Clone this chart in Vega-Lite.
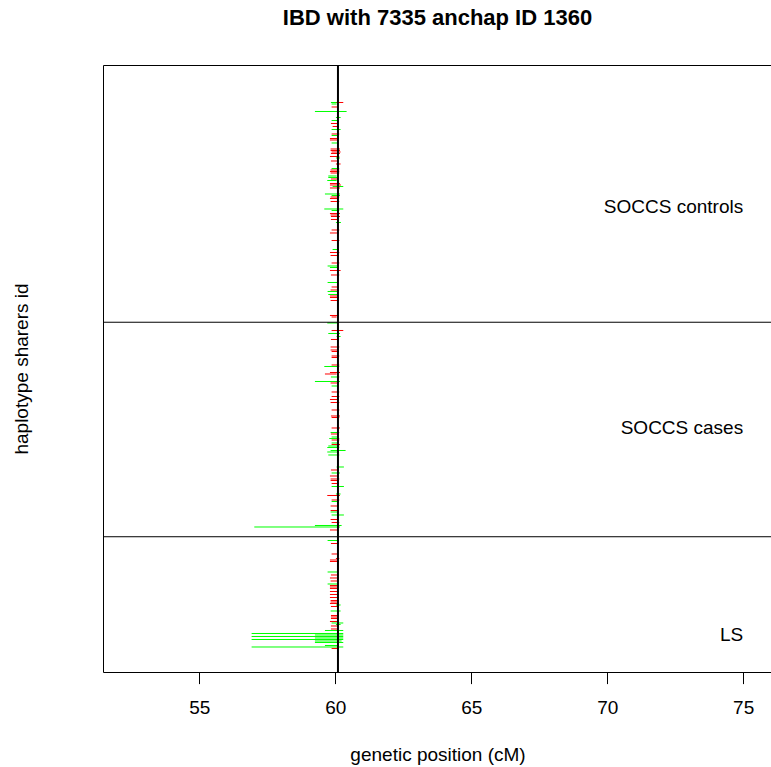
{
  "$schema": "https://vega.github.io/schema/vega-lite/v6.json",
  "width": 669,
  "height": 607,
  "autosize": {"type": "none"},
  "padding": {"left": 103, "top": 65, "right": 0, "bottom": 95},
  "background": "white",
  "config": {
    "view": {"stroke": "black", "strokeWidth": 1},
    "font": "Liberation Sans"
  },
  "title": {
    "text": "IBD with 7335 anchap ID 1360",
    "fontSize": 22,
    "font": "Liberation Sans",
    "fontWeight": "bold",
    "color": "black",
    "anchor": "middle",
    "frame": "group",
    "offset": 34
  },
  "datasets": {
    "segments": [
      {"id": 365, "start": 59.842, "end": 60.111, "hap": "A"},
      {"id": 365, "start": 60.05, "end": 60.295, "hap": "B"},
      {"id": 364, "start": 59.866, "end": 60.05, "hap": "A"},
      {"id": 362, "start": 59.866, "end": 60.087, "hap": "B"},
      {"id": 359, "start": 59.253, "end": 60.418, "hap": "A"},
      {"id": 355, "start": 60.025, "end": 60.197, "hap": "A"},
      {"id": 353, "start": 59.866, "end": 60.111, "hap": "A"},
      {"id": 351, "start": 59.842, "end": 60.074, "hap": "B"},
      {"id": 349, "start": 59.903, "end": 60.136, "hap": "B"},
      {"id": 347, "start": 59.866, "end": 60.197, "hap": "A"},
      {"id": 344, "start": 59.866, "end": 60.148, "hap": "B"},
      {"id": 343, "start": 59.866, "end": 60.111, "hap": "A"},
      {"id": 341, "start": 59.805, "end": 60.136, "hap": "B"},
      {"id": 340, "start": 59.805, "end": 60.136, "hap": "B"},
      {"id": 338, "start": 59.866, "end": 60.087, "hap": "A"},
      {"id": 334, "start": 59.829, "end": 60.172, "hap": "B"},
      {"id": 333, "start": 59.829, "end": 60.172, "hap": "B"},
      {"id": 332, "start": 59.866, "end": 60.197, "hap": "B"},
      {"id": 331, "start": 59.842, "end": 60.172, "hap": "B"},
      {"id": 329, "start": 59.805, "end": 60.148, "hap": "B"},
      {"id": 328, "start": 60.025, "end": 60.172, "hap": "A"},
      {"id": 326, "start": 59.842, "end": 60.087, "hap": "B"},
      {"id": 324, "start": 60.025, "end": 60.197, "hap": "B"},
      {"id": 321, "start": 59.866, "end": 60.148, "hap": "A"},
      {"id": 320, "start": 59.829, "end": 60.148, "hap": "B"},
      {"id": 319, "start": 59.805, "end": 60.148, "hap": "B"},
      {"id": 318, "start": 59.829, "end": 60.148, "hap": "B"},
      {"id": 316, "start": 59.744, "end": 60.05, "hap": "A"},
      {"id": 315, "start": 59.744, "end": 60.111, "hap": "A"},
      {"id": 314, "start": 59.842, "end": 60.124, "hap": "B"},
      {"id": 313, "start": 59.707, "end": 60.05, "hap": "A"},
      {"id": 311, "start": 59.805, "end": 60.172, "hap": "B"},
      {"id": 310, "start": 59.805, "end": 60.209, "hap": "B"},
      {"id": 309, "start": 59.903, "end": 60.295, "hap": "A"},
      {"id": 308, "start": 59.805, "end": 60.172, "hap": "B"},
      {"id": 304, "start": 59.621, "end": 60.172, "hap": "A"},
      {"id": 303, "start": 59.866, "end": 60.172, "hap": "A"},
      {"id": 302, "start": 59.829, "end": 60.148, "hap": "B"},
      {"id": 301, "start": 59.805, "end": 60.111, "hap": "B"},
      {"id": 299, "start": 59.829, "end": 60.148, "hap": "B"},
      {"id": 294, "start": 59.597, "end": 60.295, "hap": "A"},
      {"id": 293, "start": 59.866, "end": 60.148, "hap": "A"},
      {"id": 291, "start": 59.805, "end": 60.172, "hap": "B"},
      {"id": 290, "start": 59.829, "end": 60.136, "hap": "B"},
      {"id": 289, "start": 59.842, "end": 60.172, "hap": "B"},
      {"id": 287, "start": 59.842, "end": 60.111, "hap": "B"},
      {"id": 285, "start": 60.025, "end": 60.209, "hap": "A"},
      {"id": 280, "start": 59.866, "end": 60.148, "hap": "B"},
      {"id": 278, "start": 59.805, "end": 60.136, "hap": "B"},
      {"id": 273, "start": 59.866, "end": 60.148, "hap": "B"},
      {"id": 267, "start": 59.903, "end": 60.136, "hap": "A"},
      {"id": 265, "start": 59.805, "end": 60.148, "hap": "B"},
      {"id": 263, "start": 59.829, "end": 60.136, "hap": "B"},
      {"id": 258, "start": 59.866, "end": 60.148, "hap": "B"},
      {"id": 256, "start": 59.719, "end": 60.136, "hap": "A"},
      {"id": 255, "start": 59.805, "end": 60.111, "hap": "A"},
      {"id": 253, "start": 59.805, "end": 60.197, "hap": "B"},
      {"id": 250, "start": 59.842, "end": 60.148, "hap": "B"},
      {"id": 245, "start": 59.719, "end": 60.087, "hap": "A"},
      {"id": 242, "start": 59.866, "end": 60.136, "hap": "B"},
      {"id": 240, "start": 59.829, "end": 60.136, "hap": "B"},
      {"id": 239, "start": 59.719, "end": 60.111, "hap": "A"},
      {"id": 237, "start": 59.744, "end": 60.111, "hap": "A"},
      {"id": 236, "start": 59.805, "end": 60.136, "hap": "B"},
      {"id": 235, "start": 59.805, "end": 60.136, "hap": "B"},
      {"id": 233, "start": 59.829, "end": 60.136, "hap": "B"},
      {"id": 223, "start": 59.805, "end": 60.136, "hap": "B"},
      {"id": 222, "start": 59.866, "end": 60.05, "hap": "B"},
      {"id": 218, "start": 59.707, "end": 60.111, "hap": "A"},
      {"id": 213, "start": 59.866, "end": 60.295, "hap": "B"},
      {"id": 211, "start": 59.744, "end": 60.172, "hap": "A"},
      {"id": 209, "start": 60.05, "end": 60.197, "hap": "A"},
      {"id": 207, "start": 59.842, "end": 60.136, "hap": "B"},
      {"id": 202, "start": 59.829, "end": 60.148, "hap": "B"},
      {"id": 200, "start": 59.829, "end": 60.136, "hap": "B"},
      {"id": 199, "start": 59.866, "end": 60.136, "hap": "B"},
      {"id": 196, "start": 59.866, "end": 60.148, "hap": "B"},
      {"id": 195, "start": 59.866, "end": 60.111, "hap": "B"},
      {"id": 190, "start": 59.866, "end": 60.148, "hap": "B"},
      {"id": 189, "start": 59.597, "end": 60.148, "hap": "A"},
      {"id": 185, "start": 59.805, "end": 60.172, "hap": "B"},
      {"id": 184, "start": 59.621, "end": 60.05, "hap": "B"},
      {"id": 182, "start": 59.842, "end": 60.148, "hap": "A"},
      {"id": 179, "start": 59.253, "end": 60.172, "hap": "A"},
      {"id": 178, "start": 59.829, "end": 60.136, "hap": "B"},
      {"id": 176, "start": 59.866, "end": 60.111, "hap": "A"},
      {"id": 172, "start": 59.866, "end": 60.148, "hap": "B"},
      {"id": 169, "start": 59.866, "end": 60.148, "hap": "B"},
      {"id": 167, "start": 59.805, "end": 60.136, "hap": "B"},
      {"id": 165, "start": 59.829, "end": 60.148, "hap": "B"},
      {"id": 160, "start": 59.866, "end": 60.148, "hap": "B"},
      {"id": 156, "start": 59.842, "end": 60.172, "hap": "B"},
      {"id": 155, "start": 59.866, "end": 60.148, "hap": "B"},
      {"id": 148, "start": 59.866, "end": 60.172, "hap": "B"},
      {"id": 145, "start": 59.829, "end": 60.148, "hap": "A"},
      {"id": 144, "start": 59.842, "end": 60.136, "hap": "B"},
      {"id": 142, "start": 59.866, "end": 60.111, "hap": "A"},
      {"id": 141, "start": 59.78, "end": 60.148, "hap": "A"},
      {"id": 140, "start": 59.866, "end": 60.148, "hap": "B"},
      {"id": 138, "start": 59.866, "end": 60.087, "hap": "A"},
      {"id": 137, "start": 59.866, "end": 60.172, "hap": "B"},
      {"id": 136, "start": 59.744, "end": 60.148, "hap": "A"},
      {"id": 135, "start": 59.707, "end": 60.148, "hap": "A"},
      {"id": 133, "start": 59.829, "end": 60.381, "hap": "A"},
      {"id": 132, "start": 59.707, "end": 60.136, "hap": "A"},
      {"id": 130, "start": 59.744, "end": 60.148, "hap": "A"},
      {"id": 122, "start": 60.05, "end": 60.319, "hap": "A"},
      {"id": 120, "start": 59.842, "end": 60.136, "hap": "B"},
      {"id": 118, "start": 59.866, "end": 60.172, "hap": "A"},
      {"id": 116, "start": 59.805, "end": 60.136, "hap": "B"},
      {"id": 114, "start": 59.829, "end": 60.148, "hap": "B"},
      {"id": 113, "start": 59.829, "end": 60.136, "hap": "B"},
      {"id": 111, "start": 59.866, "end": 60.136, "hap": "B"},
      {"id": 109, "start": 59.866, "end": 60.319, "hap": "A"},
      {"id": 104, "start": 60.025, "end": 60.197, "hap": "A"},
      {"id": 103, "start": 59.707, "end": 60.172, "hap": "B"},
      {"id": 100, "start": 59.866, "end": 60.148, "hap": "B"},
      {"id": 99, "start": 59.866, "end": 60.087, "hap": "A"},
      {"id": 96, "start": 59.829, "end": 60.136, "hap": "B"},
      {"id": 93, "start": 59.829, "end": 60.136, "hap": "B"},
      {"id": 92, "start": 59.829, "end": 60.136, "hap": "A"},
      {"id": 90, "start": 59.866, "end": 60.319, "hap": "A"},
      {"id": 87, "start": 59.829, "end": 60.136, "hap": "B"},
      {"id": 85, "start": 59.866, "end": 60.148, "hap": "B"},
      {"id": 83, "start": 59.253, "end": 60.234, "hap": "A"},
      {"id": 82, "start": 57.023, "end": 60.172, "hap": "A"},
      {"id": 80, "start": 59.805, "end": 60.136, "hap": "B"},
      {"id": 73, "start": 59.719, "end": 60.136, "hap": "A"},
      {"id": 71, "start": 59.842, "end": 60.136, "hap": "B"},
      {"id": 64, "start": 59.866, "end": 60.136, "hap": "B"},
      {"id": 61, "start": 60.025, "end": 60.148, "hap": "B"},
      {"id": 60, "start": 59.805, "end": 60.136, "hap": "B"},
      {"id": 59, "start": 59.805, "end": 60.136, "hap": "B"},
      {"id": 52, "start": 59.719, "end": 60.136, "hap": "A"},
      {"id": 50, "start": 59.842, "end": 60.136, "hap": "B"},
      {"id": 48, "start": 59.805, "end": 60.136, "hap": "B"},
      {"id": 46, "start": 59.829, "end": 60.136, "hap": "B"},
      {"id": 44, "start": 59.719, "end": 60.136, "hap": "A"},
      {"id": 43, "start": 59.805, "end": 60.136, "hap": "B"},
      {"id": 42, "start": 59.805, "end": 60.136, "hap": "B"},
      {"id": 41, "start": 59.805, "end": 60.136, "hap": "B"},
      {"id": 39, "start": 59.805, "end": 60.136, "hap": "B"},
      {"id": 37, "start": 59.805, "end": 60.136, "hap": "B"},
      {"id": 35, "start": 59.805, "end": 60.136, "hap": "B"},
      {"id": 33, "start": 59.829, "end": 60.136, "hap": "B"},
      {"id": 32, "start": 59.829, "end": 60.136, "hap": "B"},
      {"id": 31, "start": 59.805, "end": 60.136, "hap": "B"},
      {"id": 30, "start": 60.025, "end": 60.197, "hap": "A"},
      {"id": 29, "start": 59.842, "end": 60.136, "hap": "B"},
      {"id": 26, "start": 59.829, "end": 60.197, "hap": "A"},
      {"id": 23, "start": 59.842, "end": 60.136, "hap": "B"},
      {"id": 22, "start": 59.842, "end": 60.136, "hap": "B"},
      {"id": 21, "start": 59.842, "end": 60.136, "hap": "B"},
      {"id": 19, "start": 59.805, "end": 60.136, "hap": "B"},
      {"id": 18, "start": 59.866, "end": 60.295, "hap": "A"},
      {"id": 17, "start": 60.025, "end": 60.197, "hap": "A"},
      {"id": 16, "start": 59.842, "end": 60.136, "hap": "B"},
      {"id": 14, "start": 59.842, "end": 60.136, "hap": "B"},
      {"id": 13, "start": 59.621, "end": 60.295, "hap": "A"},
      {"id": 11, "start": 56.925, "end": 60.295, "hap": "A"},
      {"id": 10, "start": 59.253, "end": 60.295, "hap": "A"},
      {"id": 9, "start": 56.925, "end": 60.295, "hap": "A"},
      {"id": 8, "start": 59.253, "end": 60.295, "hap": "A"},
      {"id": 7, "start": 56.925, "end": 60.295, "hap": "A"},
      {"id": 6, "start": 59.253, "end": 60.234, "hap": "A"},
      {"id": 5, "start": 59.253, "end": 60.295, "hap": "A"},
      {"id": 3, "start": 59.621, "end": 60.136, "hap": "A"},
      {"id": 2, "start": 56.925, "end": 60.295, "hap": "A"},
      {"id": 1, "start": 59.866, "end": 60.136, "hap": "B"}
    ],
    "groupBoundaries": [{"boundary": 75.5}, {"boundary": 218.5}],
    "anchor": [{"anchor_cM": 60.1}],
    "groupLabels": [
      {"label": "SOCCS controls", "lx": 75, "ly": 295},
      {"label": "SOCCS cases", "lx": 75, "ly": 148},
      {"label": "LS", "lx": 75, "ly": 10}
    ]
  },
  "layer": [
    {
      "data": {"name": "segments"},
      "mark": {"type": "rule", "strokeWidth": 1},
      "encoding": {
        "x": {
          "field": "start",
          "type": "quantitative",
          "title": "genetic position (cM)",
          "scale": {"domain": [51.46, 76.06], "nice": false, "zero": false},
          "axis": {
            "values": [55, 60, 65, 70, 75],
            "format": "d",
            "domain": false,
            "grid": false,
            "ticks": true,
            "tickSize": 11.6,
            "tickColor": "black",
            "tickWidth": 1,
            "labelFontSize": 19,
            "labelFont": "Liberation Sans",
            "labelColor": "black",
            "labelPadding": 15,
            "titleFontSize": 19,
            "titleFont": "Liberation Sans",
            "titleFontWeight": "normal",
            "titleColor": "black",
            "titlePadding": 28
          }
        },
        "x2": {"field": "end"},
        "y": {
          "field": "id",
          "type": "quantitative",
          "title": "haplotype sharers id",
          "scale": {"domain": [-14.67, 390], "nice": false, "zero": false},
          "axis": {
            "labels": false,
            "ticks": false,
            "domain": false,
            "grid": false,
            "minExtent": 0,
            "maxExtent": 0,
            "titleFontSize": 19,
            "titleFont": "Liberation Sans",
            "titleFontWeight": "normal",
            "titleColor": "black",
            "titlePadding": 72
          }
        },
        "color": {
          "field": "hap",
          "type": "nominal",
          "scale": {"domain": ["A", "B"], "range": ["#00ff00", "#ff0000"]},
          "legend": null
        }
      }
    },
    {
      "data": {"name": "groupBoundaries"},
      "mark": {"type": "rule", "color": "black", "strokeWidth": 1},
      "encoding": {
        "y": {"field": "boundary", "type": "quantitative", "title": "haplotype sharers id"}
      }
    },
    {
      "data": {"name": "anchor"},
      "mark": {"type": "rule", "color": "black", "strokeWidth": 2},
      "encoding": {
        "x": {"field": "anchor_cM", "type": "quantitative", "title": "genetic position (cM)"}
      }
    },
    {
      "data": {"name": "groupLabels"},
      "mark": {"type": "text", "align": "right", "baseline": "middle", "fontSize": 19, "font": "Liberation Sans", "color": "black"},
      "encoding": {
        "x": {"field": "lx", "type": "quantitative", "title": "genetic position (cM)"},
        "y": {"field": "ly", "type": "quantitative", "title": "haplotype sharers id"},
        "text": {"field": "label"}
      }
    }
  ]
}
